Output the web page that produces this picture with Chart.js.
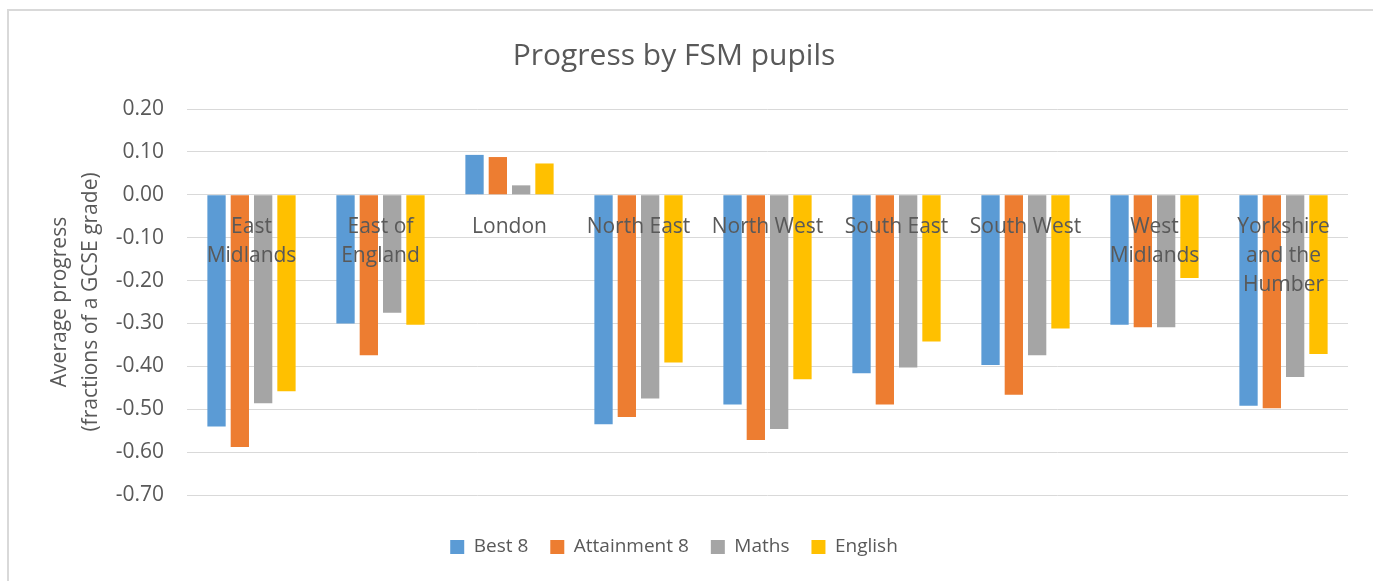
<!DOCTYPE html>
<html>
<head>
<meta charset="utf-8">
<script src="https://cdn.jsdelivr.net/npm/chart.js@4/dist/chart.umd.min.js"></script>
<style>
  html, body { margin: 0; padding: 0; background: #fff; }
  #frame { position: absolute; left: 7px; top: 9px; width: 1400px; height: 600px;
           border-left: 2px solid #d9d9d9; border-top: 2px solid #d9d9d9; }
  #chartProgress { position: absolute; left: 0; top: 0; }
</style>
</head>
<body>
<div id="frame"></div>
<canvas id="chartProgress" width="1373" height="581"></canvas>
<script>
// regions (multi-line labels as Excel wraps them)
var regions = [
  ['East', 'Midlands'],
  ['East of', 'England'],
  'London',
  'North East',
  'North West',
  'South East',
  'South West',
  ['West', 'Midlands'],
  ['Yorkshire', 'and the', 'Humber']
];

var best8       = [-0.54, -0.30, 0.093, -0.535, -0.489, -0.416, -0.397, -0.303, -0.492];
var attainment8 = [-0.588, -0.374, 0.088, -0.518, -0.572, -0.489, -0.466, -0.309, -0.498];
var maths       = [-0.486, -0.275, 0.022, -0.475, -0.546, -0.403, -0.374, -0.309, -0.425];
var english     = [-0.458, -0.303, 0.073, -0.391, -0.430, -0.342, -0.312, -0.194, -0.371];

var yTicks = { min: -0.7, max: 0.2, step: 0.1 };

var fontFamily = '"Open Sans", sans-serif';
Chart.defaults.font.family = fontFamily;
Chart.defaults.color = '#595959';

var ctx = document.getElementById('chartProgress');

var data = {
  labels: regions,
  datasets: [
    { label: 'Best 8', data: best8, backgroundColor: '#5b9bd5' },
    { label: 'Attainment 8', data: attainment8, backgroundColor: '#ed7d31' },
    { label: 'Maths', data: maths, backgroundColor: '#a5a5a5' },
    { label: 'English', data: english, backgroundColor: '#ffc000' }
  ]
};

var progressChart = new Chart(ctx, {
  type: 'bar',
  data: data,
  options: {
    responsive: false,
    animation: false,
    categoryPercentage: 0.723,
    barPercentage: 0.785,
    layout: {
      padding: { left: 0, right: 25, top: 0, bottom: 14.5 }
    },
    plugins: {
      title: {
        display: true,
        text: 'Progress by FSM pupils',
        color: '#595959',
        font: { size: 30, weight: 'normal', lineHeight: 1.2 },
        padding: { top: 38.5, bottom: 34.5 }
      },
      legend: {
        position: 'bottom',
        title: {
          display: true,
          text: '',
          font: { size: 10, lineHeight: 1.2 },
          padding: { top: 8.5, bottom: 0 }
        },
        labels: {
          boxWidth: 14,
          boxHeight: 14,
          padding: 22,
          font: { size: 19 },
          color: '#595959'
        }
      },
      tooltip: { enabled: false }
    },
    scales: {
      x: {
        position: { y: 0 },
        grid: { display: false },
        border: { display: false },
        ticks: {
          z: 1,   // labels sit on top of the bars, like Excel
          autoSkip: false,
          maxRotation: 0,
          minRotation: 0,
          padding: 10,
          font: { size: 21, lineHeight: 1.38 },
          color: '#595959'
        },
        afterFit: function (scale) { scale.height = 0; }
      },
      y: {
        min: yTicks.min,
        max: yTicks.max,
        border: { display: false },
        grid: { color: '#d9d9d9', lineWidth: 1, drawTicks: false },
        ticks: {
          stepSize: yTicks.step,
          padding: 23,
          font: { size: 21 },
          color: '#595959',
          callback: function (v) {
            if (Math.abs(v) < 1e-9) v = 0;
            return v.toFixed(2);
          }
        },
        title: {
          display: true,
          text: ['Average progress', '(fractions of a GCSE grade)'],
          color: '#595959',
          font: { size: 21, lineHeight: 1.45 },
          padding: { top: 45, bottom: 0 }
        },
        afterFit: function (scale) { scale.width = 187; }
      }
    }
  }
});
</script>
</body>
</html>
